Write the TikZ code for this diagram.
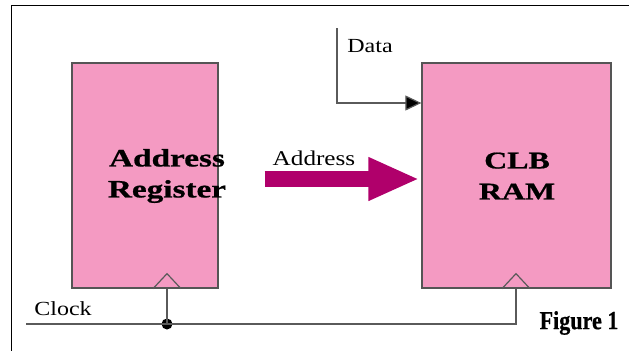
\documentclass[tikz,border=0pt]{standalone}
\usepackage{fontspec}
\setmainfont{Liberation Serif}
\newfontfamily\boxfont{Liberation Serif}[FakeStretch=1.33,FakeBold=0.8]
\newfontfamily\lblfont{Liberation Serif}[FakeStretch=1.2]
\newfontfamily\figfont{Liberation Serif}[FakeStretch=0.85,FakeBold=0.6]
\usetikzlibrary{arrows.meta}
\definecolor{boxpink}{HTML}{F49AC2}
\definecolor{boxedge}{HTML}{555555}
\definecolor{wiregray}{HTML}{5A5A5A}
\definecolor{arrowmag}{HTML}{B0006B}
\begin{document}
\begin{tikzpicture}[x=1pt,y=-1pt,
  box/.style={draw=boxedge, fill=boxpink, line width=1.3pt, inner sep=0pt},
  boxtext/.style={inner sep=0pt, align=center, font=\boxfont\bfseries\fontsize{25}{31}\selectfont},
  wire/.style={draw=wiregray, line width=1.2pt},
  frameline/.style={draw=black, line width=1.5pt},
  lbl/.style={inner sep=0pt, font=\lblfont\fontsize{20}{24}\selectfont},
  bigarrow/.style={draw=arrowmag, line width=16pt, -{Triangle[length=51pt,width=40pt,fill=arrowmag]}},
  dataarrow/.style={wire, -{Triangle[length=16pt,width=15pt,fill=black]}},
  dotnode/.style={circle, fill=black, inner sep=0pt, minimum size=11pt}]
\path[use as bounding box] (0,0) rectangle (629,351);
\draw[frameline] (629,5.5) -- (11.5,5.5) -- (11.5,351);

\node[box, minimum width=146pt, minimum height=225pt] (ar) at (145,175.5) {};
\node[boxtext] (artext) at (167,176) {Address\\Register};
\node[box, minimum width=189pt, minimum height=225pt] (ram) at (516.5,175.5) {};
\node[boxtext, font=\boxfont\bfseries\fontsize{24}{31}\selectfont] (ramtext) at (517,176) {CLB\\RAM};

% clock triangles
\draw[wire] ([xshift=8pt]ar.south) -- ([shift={(22pt,15pt)}]ar.south) -- ([xshift=36pt]ar.south);
\draw[wire] ([xshift=-14.5pt]ram.south) -- ([shift={(-0.5pt,15pt)}]ram.south) -- ([xshift=13.5pt]ram.south);

% clock wiring
\coordinate (clkin) at (26,324);
\node[dotnode] (dot) at (167,324) {};
\coordinate (ramclk) at (516,324);
\draw[wire] (clkin) -- (dot.center) -- (ramclk) -- ([xshift=-0.5pt]ram.south);
\draw[wire] (dot.center) -- ([xshift=22pt]ar.south);
\node[lbl] (clklbl) at (63,309) {Clock};

% data input
\coordinate (dtop) at (337,28);
\draw[dataarrow] (dtop) |- (ram.west |- 0,103);
\node[lbl] (datalbl) at (370,46) {Data};

% address bus
\draw[bigarrow] ([shift={(46pt,-3.5pt)}]ar.east) -- ([shift={(-2pt,-3.5pt)}]ram.west);
\node[lbl, font=\lblfont\fontsize{21}{24}\selectfont] (addrlbl) at (314,158) {Address};

\node[inner sep=0pt, font=\figfont\bfseries\fontsize{26}{30}\selectfont] (fig) at (579,323) {Figure 1};
\end{tikzpicture}
\end{document}
